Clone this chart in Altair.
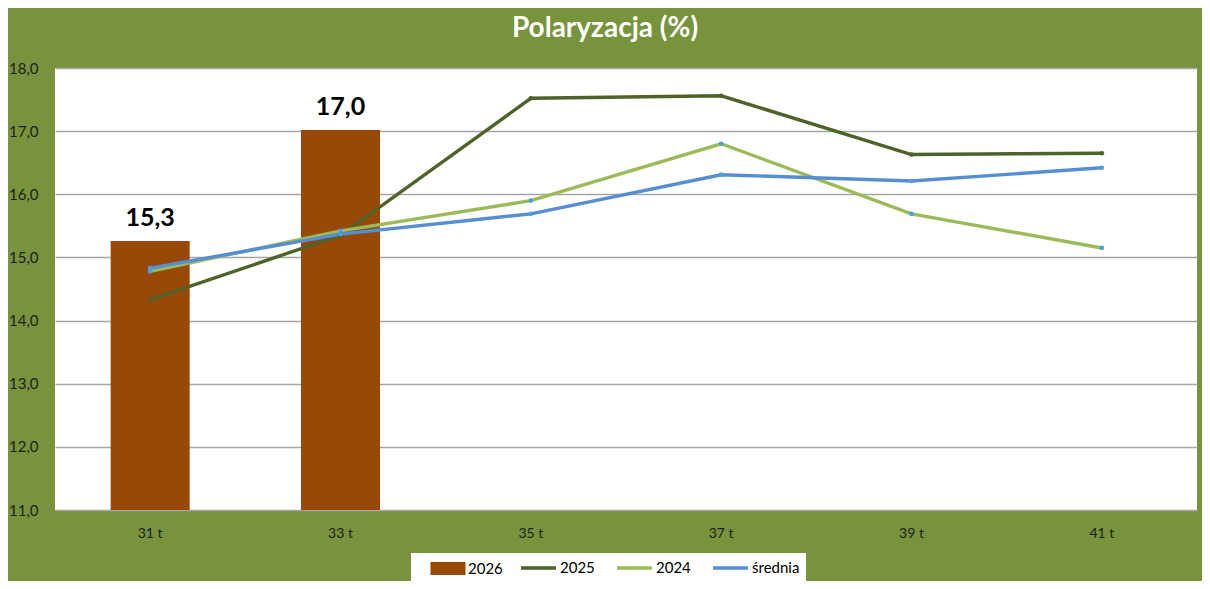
import altair as alt
import pandas as pd

weeks = ["31 t", "33 t", "35 t", "37 t", "39 t", "41 t"]
bar_weeks = ["31 t", "33 t"]
v2026 = [15.26, 17.02]
v2025 = [14.33, 15.35, 17.52, 17.56, 16.63, 16.65]
v2024 = [14.78, 15.42, 15.90, 16.80, 15.69, 15.15]
srednia = [14.83, 15.37, 15.69, 16.31, 16.21, 16.42]

line_series = ["2025", "2024", "średnia"]
line_colors = ["#4F6228", "#9BBB59", "#558ED5"]
point_colors = ["#4F6228", "#4F9FE0", "#4F9FE0"]

bars = pd.DataFrame({"w": bar_weeks, "v": v2026, "s": ["2026"] * len(v2026)})
rows = []
for name, vals in zip(line_series, [v2025, v2024, srednia]):
    for w, v in zip(weeks, vals):
        rows.append({"w": w, "v": v, "s": name})
lines = pd.DataFrame(rows)

FONT = "Lato"

x = alt.X("w:N", sort=weeks, title=None,
          scale=alt.Scale(domain=weeks, paddingInner=0, paddingOuter=0),
          axis=alt.Axis(labelAngle=0, labelFontSize=14, labelColor="#1E1E1E",
                        labelFont=FONT, ticks=False, domain=False, labelPadding=16))
y_scale = alt.Scale(domain=[11, 18], nice=False, zero=False)
y_axis = alt.Axis(values=[11, 12, 13, 14, 15, 16, 17, 18], labelFontSize=15,
                  labelColor="#1E1E1E", labelFont=FONT, ticks=False, domain=False,
                  labelPadding=17, gridColor="#A6A6A6", gridWidth=1.5,
                  labelExpr="replace(format(datum.value, '.1f'), '.', ',')")

bar_layer = alt.Chart(bars).mark_bar(size=79).encode(
    x=x,
    y=alt.Y("v:Q", scale=y_scale, axis=y_axis, title=None),
    y2=alt.datum(11),
    fill=alt.Fill("s:N", scale=alt.Scale(domain=["2026"], range=["#984807"]),
                  legend=alt.Legend(orient="none", legendX=356, legendY=485,
                                    direction="horizontal", title=None,
                                    fillColor="white", padding=8,
                                    symbolType="M0.57,-0.93H5.57V0.93H0.57Z",
                                    symbolSize=196, symbolStrokeWidth=0,
                                    labelFontSize=15, labelFont=FONT,
                                    labelColor="#000000", labelOffset=34)),
)

text_layer = alt.Chart(bars).transform_calculate(
    lab="replace(format(datum.v, '.1f'), '.', ',')"
).mark_text(fontSize=25, fontWeight="bold", font=FONT, dy=-23, color="#000000").encode(
    x=x, y=alt.Y("v:Q", scale=y_scale), text="lab:N")

line_layer = alt.Chart(lines).mark_line(strokeWidth=3.4).encode(
    x=x,
    y=alt.Y("v:Q", scale=y_scale),
    stroke=alt.Stroke("s:N", scale=alt.Scale(domain=line_series, range=line_colors),
                      legend=alt.Legend(orient="none", legendX=451, legendY=485,
                                        direction="horizontal", title=None,
                                        fillColor="white", padding=6,
                                        symbolType="M0,0H5", symbolSize=196,
                                        symbolStrokeWidth=3.5, columnPadding=13,
                                        labelFontSize=15, labelFont=FONT,
                                        labelColor="#000000", labelOffset=30)),
    order=alt.Order("s:N"),
)

point_layer = alt.Chart(lines).mark_circle(size=22, opacity=1).encode(
    x=x,
    y=alt.Y("v:Q", scale=y_scale),
    color=alt.Color("s:N", scale=alt.Scale(domain=line_series, range=point_colors),
                    legend=None),
)

chart = alt.layer(bar_layer, line_layer, point_layer, text_layer).properties(
    width=1142, height=442,
    autosize="none",
    padding={"left": 47, "top": 60, "right": 5, "bottom": 71},
    title=alt.TitleParams("Polaryzacja (%)", color="white", fontSize=28,
                          font=FONT, fontWeight="bold", anchor="middle",
                          offset=18, dx=-21),
).configure(background="#77933C").configure_view(fill="white", stroke=None)

chart.save("out.html", embed_options={"renderer": "svg", "actions": False})
